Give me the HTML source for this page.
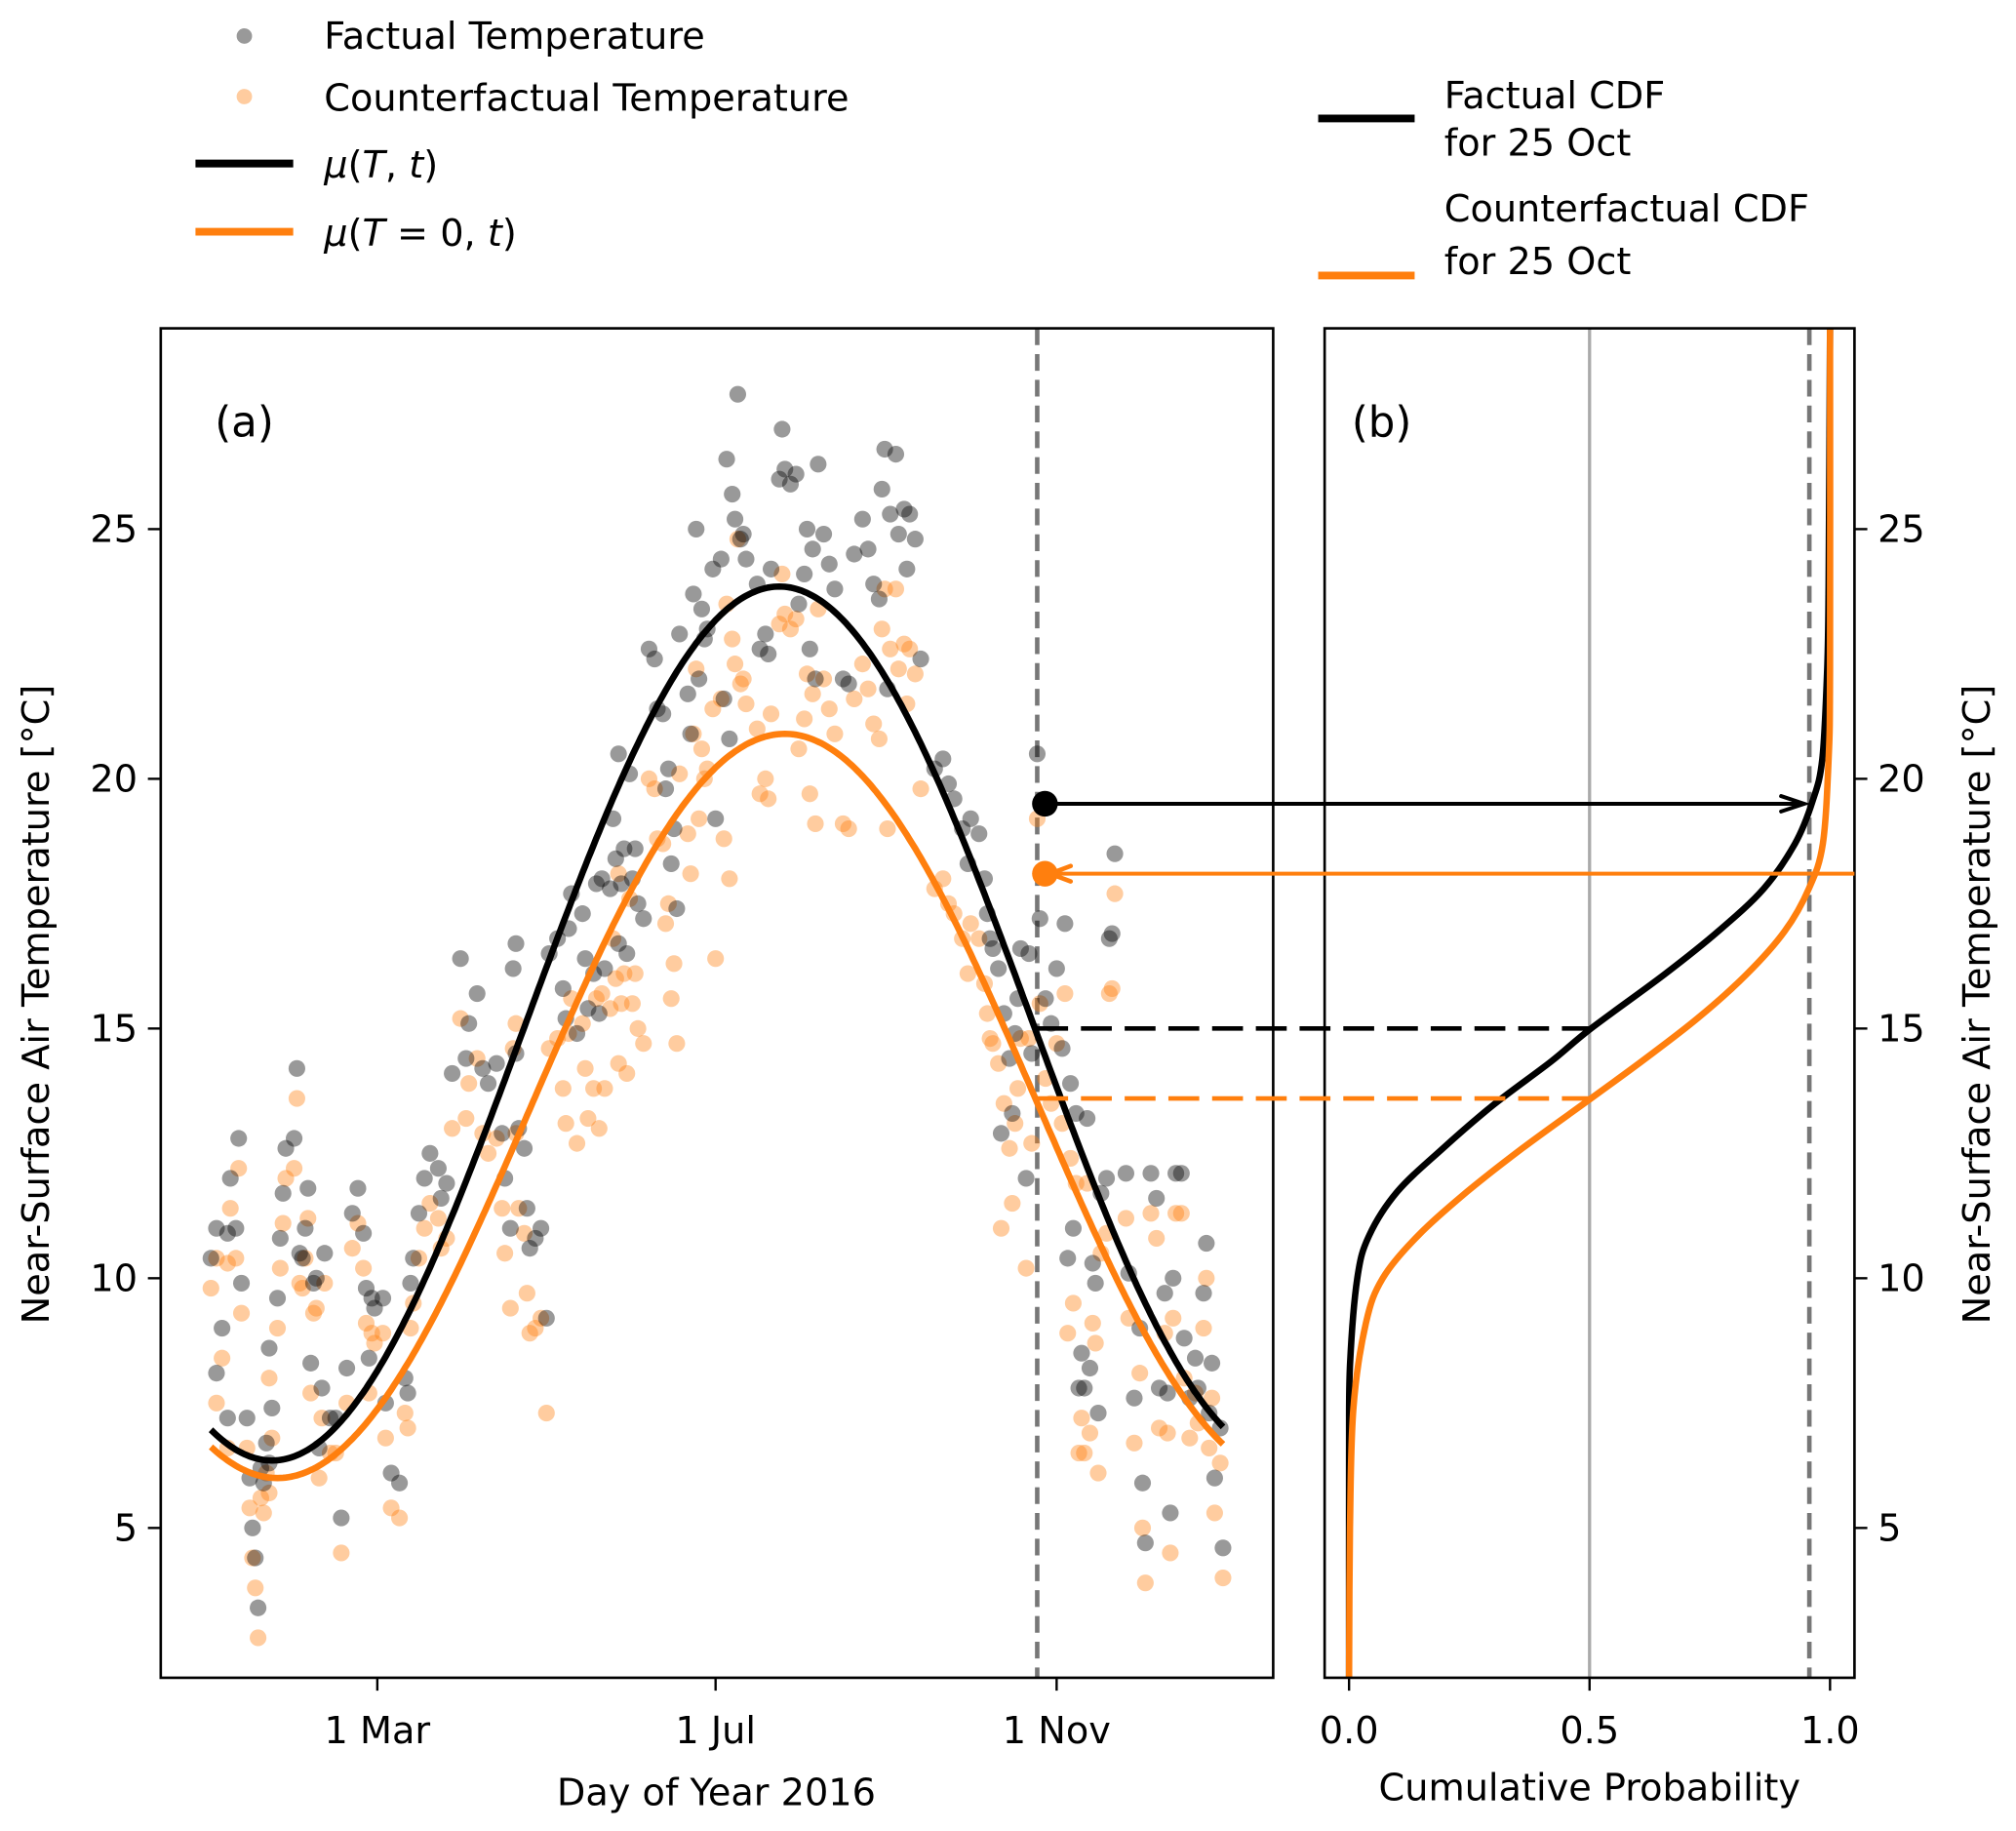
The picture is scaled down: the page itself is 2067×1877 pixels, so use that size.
<!DOCTYPE html>
<html><head><meta charset="utf-8">
<style>
html,body{margin:0;padding:0;background:#fff;}
svg{display:block;}
text{font-family:"DejaVu Sans","Liberation Sans",sans-serif;fill:#000;}
</style></head>
<body>
<svg id="chart" xmlns="http://www.w3.org/2000/svg" width="2067" height="1877" viewBox="0 0 1567.6 1422" preserveAspectRatio="none">
<rect x="0" y="0" width="1567.6" height="1422" fill="#fff"/>
<g id="panelA"></g>
<g id="panelB"></g>
<g id="legendLeft">
  <circle cx="190" cy="28" r="6" fill="#000" fill-opacity="0.4"/>
  <text x="252" y="38" font-size="29">Factual Temperature</text>
  <circle cx="190" cy="75" r="6" fill="#ff7f0e" fill-opacity="0.4"/>
  <text x="252" y="86" font-size="29">Counterfactual Temperature</text>
  <line x1="152" y1="127" x2="228" y2="127" stroke="#000" stroke-width="6"/>
  <text x="252" y="138" font-size="29"><tspan font-style="italic">μ</tspan>(<tspan font-style="italic">T</tspan>, <tspan font-style="italic">t</tspan>)</text>
  <line x1="152" y1="180" x2="228" y2="180" stroke="#ff7f0e" stroke-width="6"/>
  <text x="252" y="191" font-size="29"><tspan font-style="italic">μ</tspan>(<tspan font-style="italic">T</tspan> = 0, <tspan font-style="italic">t</tspan>)</text>
</g>
<g id="legendRight">
  <line x1="1025" y1="92" x2="1100" y2="92" stroke="#000" stroke-width="6"/>
  <text x="1123" y="84" font-size="29">Factual CDF</text>
  <text x="1123" y="121" font-size="29">for 25 Oct</text>
  <line x1="1025" y1="214" x2="1100" y2="214" stroke="#ff7f0e" stroke-width="6"/>
  <text x="1123" y="172" font-size="29">Counterfactual CDF</text>
  <text x="1123" y="213" font-size="29">for 25 Oct</text>
</g>
</svg>
<script>
// ---- data ----
const days = [0,2,2,4,6,7,10,9,11,6,13,14,15,16,17,18,19,20,
27,30,31,26,25,24,21,22,21,32,33,35,34,37,38,40,36,39,
41,43,45,47,49,51,53,55,56,58,59,62,57,63,65,68,70,71,
72,73,75,77,79,82,83,85,87,90,92,
93,96,98,100,103,105,106,108,109,110,110,113,114,117,119,121,115,111,
122,125,127,129,130,128,132,134,135,136,138,139,141,140,142,144,146,148,150,147,
145,147,151,149,152,154,156,153,158,160,161,163,165,164,167,168,166,
169,174,177,176,179,181,175,184,178,172,173,185,187,182,
186,188,189,190,191,192,198,193,197,200,201,202,205,206,207,209,211,212,214,216,218,215,217,219,
221,223,225,228,230,232,235,237,239,242,243,247,245,248,250,252,251,254,256,244,241,
261,264,266,268,271,273,274,277,279,281,280,282,284,286,288,290,291,292,289,285,294,296,
295,298,299,301,303,305,307,310,312,309,311,316,308,324,325,326,321,323,318,319,313,315,317,314,320,330,331,335,
336,337,333,339,341,344,342,345,348,350,347,351,353,346,355,359,358,360,361,362,365,364,356];
const factualTemp = [10.4,11.0,8.1,9.0,10.9,12.0,12.8,11.0,9.9,7.2,7.2,6.0,5.0,4.4,3.4,6.2,5.9,6.7,
12.6,12.8,14.2,11.7,10.8,9.6,8.6,7.4,6.3,10.5,10.4,11.8,11.0,9.9,10.0,7.8,8.3,6.6,
10.5,7.2,7.2,5.2,8.2,11.3,11.8,10.9,9.8,9.6,9.4,9.6,8.4,7.5,6.1,5.9,8.0,7.7,
9.9,10.4,11.3,12.0,12.5,12.2,11.6,11.9,14.1,16.4,14.4,
15.1,15.7,14.2,13.9,14.3,12.9,12.0,11.0,16.2,16.7,14.5,12.6,11.4,10.8,11.0,9.2,10.6,13.0,
16.5,16.8,15.8,17.0,17.7,15.2,14.9,17.3,16.4,15.4,16.1,17.9,18.0,15.3,16.2,17.8,18.4,17.9,16.5,16.7,
19.2,20.5,20.1,18.6,18.0,17.5,17.2,18.6,22.6,22.4,21.4,21.3,20.2,19.8,19.0,17.4,18.3,
22.9,23.7,23.4,22.0,23.0,24.2,25.0,24.4,22.8,21.7,20.9,21.6,20.8,19.2,
26.4,25.7,25.2,27.7,24.8,24.9,22.6,24.4,23.9,22.9,22.5,24.2,26.0,27.0,26.2,25.9,26.1,23.5,24.1,22.6,22.0,25.0,24.6,26.3,
24.9,24.3,23.8,22.0,21.9,24.5,25.2,24.6,23.9,25.8,26.6,26.5,25.3,24.9,25.4,25.3,24.2,24.8,22.4,21.8,23.6,
20.2,20.4,19.9,19.6,19.0,18.3,19.2,18.9,18.0,16.8,17.3,16.6,16.2,15.3,14.4,14.9,15.6,16.6,13.3,12.9,12.0,14.5,
16.5,20.5,17.2,15.6,15.1,16.2,14.6,13.9,13.3,10.4,11.0,13.2,17.1,16.8,16.9,18.5,11.7,12.0,10.3,9.9,7.8,7.8,8.2,8.5,7.3,12.1,10.1,9.0,
5.9,4.7,7.6,12.1,11.6,9.7,7.8,7.7,12.1,12.1,10.0,8.8,7.6,5.3,8.4,10.7,9.7,7.3,8.3,6.0,4.6,7.0,7.8];
const counterfactualTemp = [9.8,10.4,7.5,8.4,10.3,11.4,12.2,10.4,9.3,6.6,6.6,5.4,4.4,3.8,2.8,5.6,5.3,6.1,
12.0,12.2,13.6,11.1,10.2,9.0,8.0,6.8,5.7,9.9,9.8,11.2,10.4,9.3,9.4,7.2,7.7,6.0,
9.9,6.5,6.5,4.5,7.5,10.6,11.1,10.2,9.1,8.9,8.7,8.9,7.7,6.8,5.4,5.2,7.3,7.0,
9.0,9.5,10.4,11.0,11.5,11.2,10.6,10.8,13.0,15.2,13.2,
13.9,14.4,12.9,12.5,12.8,11.4,10.5,9.4,14.6,15.1,12.9,10.9,9.7,9.0,9.2,7.3,8.9,11.4,
14.6,14.8,13.8,14.9,15.6,13.1,12.7,15.1,14.2,13.2,13.8,15.6,15.7,13.0,13.8,15.4,16.0,15.5,14.1,14.3,
16.8,18.1,17.6,16.1,15.5,15.0,14.7,16.1,20.0,19.8,18.8,18.7,17.5,17.1,16.3,14.7,15.6,
20.1,20.9,20.6,19.2,20.2,21.4,22.2,21.6,20.0,18.9,18.1,18.8,18.0,16.4,
23.5,22.8,22.3,24.8,21.9,22.0,19.7,21.5,21.0,20.0,19.6,21.3,23.1,24.1,23.3,23.0,23.2,20.6,21.2,19.7,19.1,22.1,21.7,23.4,
22.0,21.4,20.9,19.1,19.0,21.6,22.3,21.8,21.1,23.0,23.8,23.8,22.6,22.2,22.7,22.6,21.5,22.1,19.8,19.0,20.8,
17.8,18.0,17.5,17.3,16.8,16.1,17.1,16.8,15.9,14.8,15.3,14.7,14.3,13.5,12.6,13.1,13.8,14.8,11.5,11.0,10.2,12.7,
14.8,19.2,15.5,14.0,13.5,14.7,13.1,12.4,11.9,8.9,9.5,11.9,15.7,15.7,15.8,17.7,10.5,10.9,9.1,8.7,6.5,6.5,6.9,7.2,6.1,11.2,9.2,8.1,
5.0,3.9,6.7,11.3,10.8,8.9,7.0,6.9,11.3,11.3,9.2,8.0,6.8,4.5,7.7,10.0,9.0,6.6,7.6,5.3,4.0,6.3,7.1];
// seasonal fit parameters: [mean, amplitude, peak day]
const muFactualParams = [15.1, 8.75, 205];
const muCounterParams = [13.45, 7.45, 207];
const eventDay = [298];
const eventTemps = [19.5, 18.1];
const medianTemps = [15.0, 13.6];
const eventProb = [0.957];
const xTickDays = [60, 182, 305];
const xTickLabels = ["1 Mar", "1 Jul", "1 Nov"];
const yTicks = [5, 10, 15, 20, 25];
const pTicks = [0.0, 0.5, 1.0];
const pTickLabels = ["0.0", "0.5", "1.0"];
const cdfFactualT = [2.0, 6.5, 8.25, 10.0, 10.86, 11.73, 12.6, 13.47, 14.34, 15.0, 16.08, 16.95, 17.8, 18.7, 19.56, 20.4, 22.2, 23.9, 29.0];
const cdfFactualP = [0.0, 0.0, 0.002, 0.017, 0.042, 0.10, 0.195, 0.30, 0.42, 0.503, 0.655, 0.768, 0.862, 0.927, 0.964, 0.984, 0.994, 0.997, 1.0];
const cdfCounterT = [2.0, 5.0, 7.4, 9.1, 10.0, 10.86, 11.73, 12.6, 13.6, 14.34, 15.2, 16.08, 16.95, 17.8, 18.7, 20.4, 22.2, 29.0];
const cdfCounterP = [0.0, 0.002, 0.009, 0.035, 0.07, 0.144, 0.245, 0.36, 0.503, 0.608, 0.724, 0.826, 0.906, 0.956, 0.985, 0.997, 1.0, 1.0];

// ---- layout ----
const NS = "http://www.w3.org/2000/svg";
const A = {l:125, r:990, t:255, b:1303};
const B = {l:1030, r:1442, t:255, b:1303};
const yMin = 2.0, yMax = 29.02;
const dMin = -18.1, dMax = 383.1;
const pMin = -0.0508, pMax = 1.0508;
const yS = T => A.b - (T - yMin) / (yMax - yMin) * (A.b - A.t);
const xA = d => A.l + (d - dMin) / (dMax - dMin) * (A.r - A.l);
const xB = p => B.l + (p - pMin) / (pMax - pMin) * (B.r - B.l);

function mk(tag, attrs, parent) {
  const el = document.createElementNS(NS, tag);
  for (const k in attrs) el.setAttribute(k, attrs[k]);
  parent.appendChild(el);
  return el;
}
const gA = document.getElementById('panelA');
const gB = document.getElementById('panelB');
const mu = (p, d) => p[0] + p[1] * Math.cos(2 * Math.PI * (d - p[2]) / 366);

const defs = mk('defs', {}, document.getElementById('chart'));
const cpA = mk('clipPath', {id: 'clipA'}, defs);
mk('rect', {x: A.l, y: A.t, width: A.r - A.l, height: A.b - A.t}, cpA);
const cpB = mk('clipPath', {id: 'clipB'}, defs);
mk('rect', {x: B.l, y: B.t, width: B.r - B.l, height: B.b - B.t}, cpB);

// ---- panel a ----
const plotA = mk('g', {'clip-path': 'url(#clipA)'}, gA);



const dl = mk('line', {x1: xA(eventDay[0]), x2: xA(eventDay[0]), y1: A.t, y2: A.b, stroke: '#777', 'stroke-width': 3.5, 'stroke-dasharray': '13 7'}, plotA);



for (let i = 0; i < days.length; i++) {
  const c = mk('circle', {cx: xA(days[i]), cy: yS(counterfactualTemp[i]), r: 6.5, fill: '#ff7f0e', 'fill-opacity': 0.4}, plotA);
  
  
}
for (let i = 0; i < days.length; i++) {
  const c = mk('circle', {cx: xA(days[i]), cy: yS(factualTemp[i]), r: 6.5, fill: '#000', 'fill-opacity': 0.4}, plotA);
  
  
}
function curve(params) {
  let s = '';
  for (let d = 0; d <= 365; d += 1) s += (d ? 'L' : 'M') + xA(d).toFixed(1) + ',' + yS(mu(params, d)).toFixed(1);
  return s;
}
const cC = mk('path', {d: curve(muCounterParams), fill: 'none', stroke: '#ff7f0e', 'stroke-width': 5}, plotA);


const cF = mk('path', {d: curve(muFactualParams), fill: 'none', stroke: '#000', 'stroke-width': 5}, plotA);



// ---- panel b ----
const plotB = mk('g', {'clip-path': 'url(#clipB)'}, gB);


const ml = mk('line', {x1: xB(0.5), x2: xB(0.5), y1: B.t, y2: B.b, stroke: '#aaa', 'stroke-width': 2.5}, plotB);


const pl = mk('line', {x1: xB(eventProb[0]), x2: xB(eventProb[0]), y1: B.t, y2: B.b, stroke: '#777', 'stroke-width': 3.5, 'stroke-dasharray': '13 7'}, plotB);



function cdfPath(T, P) {
  const pts = T.map((t, i) => [xB(P[i]), yS(t)]);
  let s = 'M' + pts[0][0].toFixed(1) + ',' + pts[0][1].toFixed(1);
  for (let i = 0; i < pts.length - 1; i++) {
    const p0 = pts[Math.max(0, i - 1)], p1 = pts[i], p2 = pts[i + 1], p3 = pts[Math.min(pts.length - 1, i + 2)];
    const c1 = [p1[0] + (p2[0] - p0[0]) / 6, p1[1] + (p2[1] - p0[1]) / 6];
    const c2 = [p2[0] - (p3[0] - p1[0]) / 6, p2[1] - (p3[1] - p1[1]) / 6];
    s += 'C' + c1.map(v => v.toFixed(1)).join(',') + ' ' + c2.map(v => v.toFixed(1)).join(',') + ' ' + p2[0].toFixed(1) + ',' + p2[1].toFixed(1);
  }
  return s;
}
const pF = mk('path', {d: cdfPath(cdfFactualT, cdfFactualP), fill: 'none', stroke: '#000', 'stroke-width': 5}, plotB);


const pC = mk('path', {d: cdfPath(cdfCounterT, cdfCounterP), fill: 'none', stroke: '#ff7f0e', 'stroke-width': 5}, plotB);



// ---- cross-panel annotations ----
const ann = mk('g', {}, document.getElementById('chart'));


const ex = xA(eventDay[0]);
const dF = mk('line', {x1: ex, x2: xB(0.5), y1: yS(medianTemps[0]), y2: yS(medianTemps[0]), stroke: '#000', 'stroke-width': 3.5, 'stroke-dasharray': '24 10'}, ann);


const dC = mk('line', {x1: ex, x2: xB(0.5), y1: yS(medianTemps[1]), y2: yS(medianTemps[1]), stroke: '#ff7f0e', 'stroke-width': 3.5, 'stroke-dasharray': '24 10'}, ann);


const yF = yS(eventTemps[0]), arrEnd = xB(eventProb[0]) - 4;
const aF = mk('line', {x1: ex + 8, x2: arrEnd, y1: yF, y2: yF, stroke: '#000', 'stroke-width': 3}, ann);


const hF = mk('path', {d: `M${arrEnd - 18},${yF - 6} L${arrEnd},${yF} L${arrEnd - 18},${yF + 6}`, fill: 'none', stroke: '#000', 'stroke-width': 3, 'stroke-linecap': 'round'}, ann);


const dotF = mk('circle', {cx: ex + 6, cy: yF, r: 10, fill: '#000'}, ann);


const yC = yS(eventTemps[1]);
const aC = mk('line', {x1: B.r, x2: ex + 10, y1: yC, y2: yC, stroke: '#ff7f0e', 'stroke-width': 3}, ann);


const hC = mk('path', {d: `M${ex + 26},${yC - 6} L${ex + 10},${yC} L${ex + 26},${yC + 6}`, fill: 'none', stroke: '#ff7f0e', 'stroke-width': 3.5, 'stroke-linecap': 'round'}, ann);


const dotC = mk('circle', {cx: ex + 6, cy: yC, r: 10, fill: '#ff7f0e'}, ann);



// ---- axes / frames ----
function frame(P, parent, name) {
  const r = mk('rect', {x: P.l, y: P.t, width: P.r - P.l, height: P.b - P.t, fill: 'none', stroke: '#000', 'stroke-width': 2}, parent);
  
  
}
frame(A, gA, 'panel-a-frame');
frame(B, gB, 'panel-b-frame');

xTickDays.forEach((d, i) => {
  const x = xA(d);
  const t = mk('line', {x1: x, x2: x, y1: A.b, y2: A.b + 10, stroke: '#000', 'stroke-width': 1.8}, gA);
  
  
  const l = mk('text', {x: x, y: A.b + 51, 'font-size': 29, 'text-anchor': 'middle'}, gA);
  l.textContent = xTickLabels[i];
  
  
});
yTicks.forEach(v => {
  const y = yS(v);
  const t = mk('line', {x1: A.l - 10, x2: A.l, y1: y, y2: y, stroke: '#000', 'stroke-width': 1.8}, gA);
  
  
  const l = mk('text', {x: A.l - 18, y: y + 10, 'font-size': 29, 'text-anchor': 'end'}, gA);
  l.textContent = v;
  
  
  const t2 = mk('line', {x1: B.r, x2: B.r + 10, y1: y, y2: y, stroke: '#000', 'stroke-width': 1.8}, gB);
  
  
  const l2 = mk('text', {x: B.r + 18, y: y + 10, 'font-size': 29, 'text-anchor': 'start'}, gB);
  l2.textContent = v;
  
  
});
pTicks.forEach((p, i) => {
  const x = xB(p);
  const t = mk('line', {x1: x, x2: x, y1: B.b, y2: B.b + 10, stroke: '#000', 'stroke-width': 1.8}, gB);
  
  
  const l = mk('text', {x: x, y: B.b + 51, 'font-size': 29, 'text-anchor': 'middle'}, gB);
  l.textContent = pTickLabels[i];
  
  
});

function label(txt, x, y, rot, name, parent, size) {
  const t = mk('text', {x: x, y: y, 'font-size': size || 29, 'text-anchor': 'middle'}, parent);
  if (rot) t.setAttribute('transform', `rotate(${rot} ${x} ${y})`);
  t.textContent = txt;
  
  
}
label('Day of Year 2016', 557, 1402, 0, 'x-axis-title-a', gA);
label('Cumulative Probability', 1236, 1398, 0, 'x-axis-title-b', gB);
label('Near-Surface Air Temperature [°C]', 38, 780, -90, 'y-axis-title-left', gA);
label('Near-Surface Air Temperature [°C]', 1547, 780, -90, 'y-axis-title-right', gB);
const pa = mk('text', {x: 167, y: 339, 'font-size': 33}, gA);
pa.textContent = '(a)';


const pb = mk('text', {x: 1051, y: 339, 'font-size': 33}, gB);
pb.textContent = '(b)';


</script>
</body></html>
